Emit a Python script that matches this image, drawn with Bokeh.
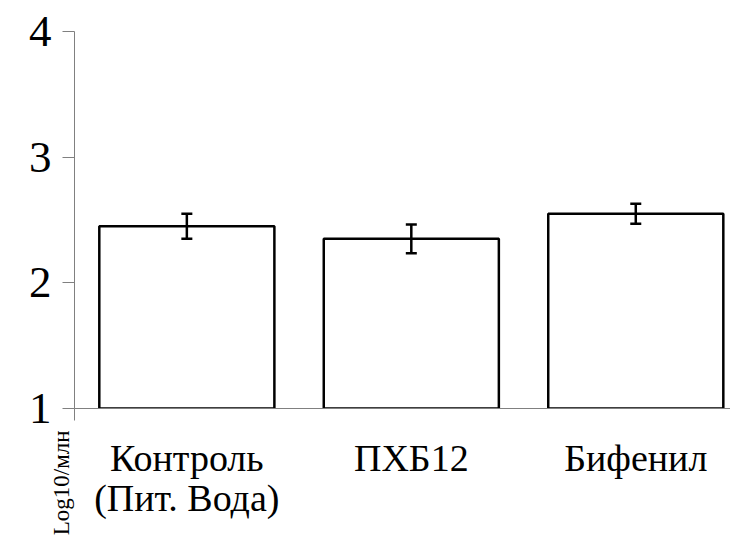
import math
from bokeh.plotting import figure
from bokeh.models import Range1d, FixedTicker, Whisker, ColumnDataSource, Label
from bokeh.embed import file_html
from bokeh.resources import INLINE

categories = ["Контроль\n(Пит. Вода)", "ПХБ12", "Бифенил"]
positions = [0.5, 1.5, 2.5]
values = [2.45, 2.35, 2.55]
errors = [0.10, 0.115, 0.08]
y_ticks = [1, 2, 3, 4]

FONT = "'Liberation Serif'"
AXIS_COLOR = "#808080"

p = figure(width=730, height=538, output_backend="svg", toolbar_location=None,
           x_range=Range1d(-0.0005, 2.922), y_range=Range1d(1, 4),
           min_border_left=74, min_border_top=31, min_border_right=0,
           min_border_bottom=130)
p.outline_line_color = None
p.xgrid.visible = False
p.ygrid.visible = False
p.background_fill_color = "white"
p.border_fill_color = "white"

src = ColumnDataSource(dict(
    x=positions, top=values,
    upper=[v + e for v, e in zip(values, errors)],
    lower=[v - e for v, e in zip(values, errors)],
))
p.vbar(x="x", top="top", bottom=1, width=0.78, source=src,
       fill_color="white", line_color="black", line_width=2.5)
w = Whisker(base="x", upper="upper", lower="lower", source=src,
            line_color="black", line_width=2.5, level="overlay")
w.upper_head.size = 11
w.lower_head.size = 11
w.upper_head.line_width = 2.5
w.lower_head.line_width = 2.5
p.add_layout(w)

# y axis
ya = p.yaxis[0]
ya.ticker = FixedTicker(ticks=y_ticks, minor_ticks=[])
ya.major_tick_out = 12
ya.major_tick_in = 0
ya.axis_line_color = AXIS_COLOR
ya.major_tick_line_color = AXIS_COLOR
ya.major_label_text_font = FONT
ya.major_label_text_font_size = "45px"
ya.major_label_text_color = "black"
ya.major_label_standoff = 11

# x axis (minor tick marks the origin of the category axis)
xa = p.xaxis[0]
xa.ticker = FixedTicker(ticks=positions, minor_ticks=[0.0])
xa.major_label_overrides = {pos: lab for pos, lab in zip(positions, categories)}
xa.major_tick_out = 0
xa.major_tick_in = 0
xa.minor_tick_out = 12
xa.minor_tick_in = 0
xa.minor_tick_line_color = AXIS_COLOR
xa.minor_tick_line_width = 1
xa.axis_line_color = AXIS_COLOR
xa.major_label_text_font = FONT
xa.major_label_text_font_size = "38px"
xa.major_label_text_line_height = 0.97
xa.major_label_text_color = "black"
xa.major_label_standoff = 16

lab = Label(x=61, y=430, x_units="canvas", y_units="canvas",
            text="Log10/млн", angle=math.pi / 2,
            text_font=FONT, text_font_size="23px", text_color="black",
            text_align="right", text_baseline="middle")
p.add_layout(lab, "left")

open("out.html", "w").write(file_html(p, INLINE))
